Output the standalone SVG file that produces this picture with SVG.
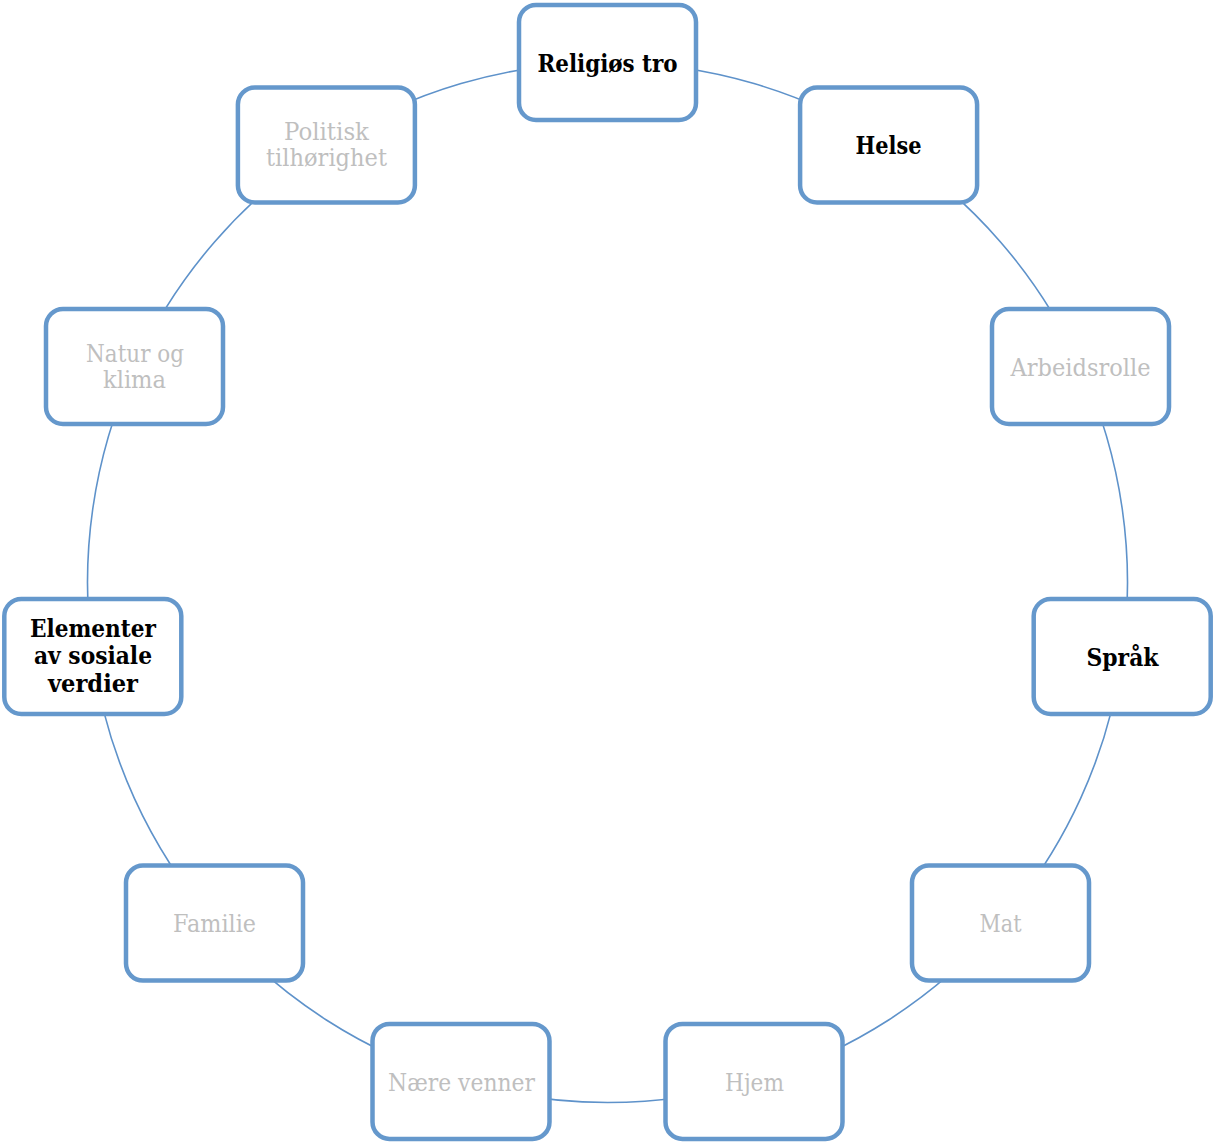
<svg xmlns="http://www.w3.org/2000/svg" width="1213" height="1143" viewBox="0 0 1213 1143">
<style>
.box{fill:#fff;stroke:#6598CC;stroke-width:4.5}
.con{fill:none;stroke:#5E92CA;stroke-width:1.6}
text{font-family:"DejaVu Serif","Liberation Serif",serif;font-size:23.5px;text-anchor:middle}
.b{font-weight:bold;fill:#000}
.g{fill:#BFBFBF}
</style>
<rect width="1213" height="1143" fill="#fff"/>
<g id="connectors">
<path class="con" d="M607.5 62.5 A520 520 0 0 1 888.6 145"/>
<path class="con" d="M888.6 145 A520 520 0 0 1 1080.5 366.5"/>
<path class="con" d="M1080.5 366.5 A520 520 0 0 1 1122.2 656.5"/>
<path class="con" d="M1122.2 656.5 A520 520 0 0 1 1000.5 923.1"/>
<path class="con" d="M1000.5 923.1 A520 520 0 0 1 754 1081.4"/>
<path class="con" d="M754 1081.4 A520 520 0 0 1 461 1081.4"/>
<path class="con" d="M461 1081.4 A520 520 0 0 1 214.5 923.1"/>
<path class="con" d="M214.5 923.1 A520 520 0 0 1 92.8 656.5"/>
<path class="con" d="M92.8 656.5 A520 520 0 0 1 134.5 366.5"/>
<path class="con" d="M134.5 366.5 A520 520 0 0 1 326.4 145"/>
<path class="con" d="M326.4 145 A520 520 0 0 1 607.5 62.5"/>
</g>
<g id="n-religios">
<rect class="box" x="519" y="5" width="177" height="115" rx="17"/>
<text class="b" x="607.5" y="71.5" textLength="140" lengthAdjust="spacingAndGlyphs">Religiøs tro</text>
</g>
<g id="n-helse">
<rect class="box" x="800.1" y="87.5" width="177" height="115" rx="17"/>
<text class="b" x="888.6" y="154" textLength="66" lengthAdjust="spacingAndGlyphs">Helse</text>
</g>
<g id="n-arbeid">
<rect class="box" x="992" y="309" width="177" height="115" rx="17"/>
<text class="g" x="1080.5" y="375.5" textLength="140" lengthAdjust="spacingAndGlyphs">Arbeidsrolle</text>
</g>
<g id="n-sprak">
<rect class="box" x="1033.7" y="599" width="177" height="115" rx="17"/>
<text class="b" x="1122.5" y="665.5" textLength="72" lengthAdjust="spacingAndGlyphs">Språk</text>
</g>
<g id="n-mat">
<rect class="box" x="912" y="865.6" width="177" height="115" rx="17"/>
<text class="g" x="1000.5" y="932" textLength="42" lengthAdjust="spacingAndGlyphs">Mat</text>
</g>
<g id="n-hjem">
<rect class="box" x="665.5" y="1023.9" width="177" height="115" rx="17"/>
<text class="g" x="754.5" y="1090.5" textLength="59" lengthAdjust="spacingAndGlyphs">Hjem</text>
</g>
<g id="n-venner">
<rect class="box" x="372.5" y="1023.9" width="177" height="115" rx="17"/>
<text class="g" x="461.5" y="1090.5" textLength="147" lengthAdjust="spacingAndGlyphs">Nære venner</text>
</g>
<g id="n-familie">
<rect class="box" x="126" y="865.6" width="177" height="115" rx="17"/>
<text class="g" x="214.5" y="932" textLength="83" lengthAdjust="spacingAndGlyphs">Familie</text>
</g>
<g id="n-elementer">
<rect class="box" x="4.3" y="599" width="177" height="115" rx="17"/>
<text class="b" x="93" y="636.5" textLength="126" lengthAdjust="spacingAndGlyphs">Elementer</text>
<text class="b" x="93" y="664" textLength="118" lengthAdjust="spacingAndGlyphs">av sosiale</text>
<text class="b" x="93" y="691.5" textLength="90" lengthAdjust="spacingAndGlyphs">verdier</text>
</g>
<g id="n-natur">
<rect class="box" x="46" y="309" width="177" height="115" rx="17"/>
<text class="g" x="135" y="361.5" textLength="98" lengthAdjust="spacingAndGlyphs">Natur og</text>
<text class="g" x="134.5" y="387.5" textLength="63" lengthAdjust="spacingAndGlyphs">klima</text>
</g>
<g id="n-politisk">
<rect class="box" x="237.9" y="87.5" width="177" height="115" rx="17"/>
<text class="g" x="326.5" y="140" textLength="85" lengthAdjust="spacingAndGlyphs">Politisk</text>
<text class="g" x="326.5" y="166" textLength="121" lengthAdjust="spacingAndGlyphs">tilhørighet</text>
</g>
</svg>
